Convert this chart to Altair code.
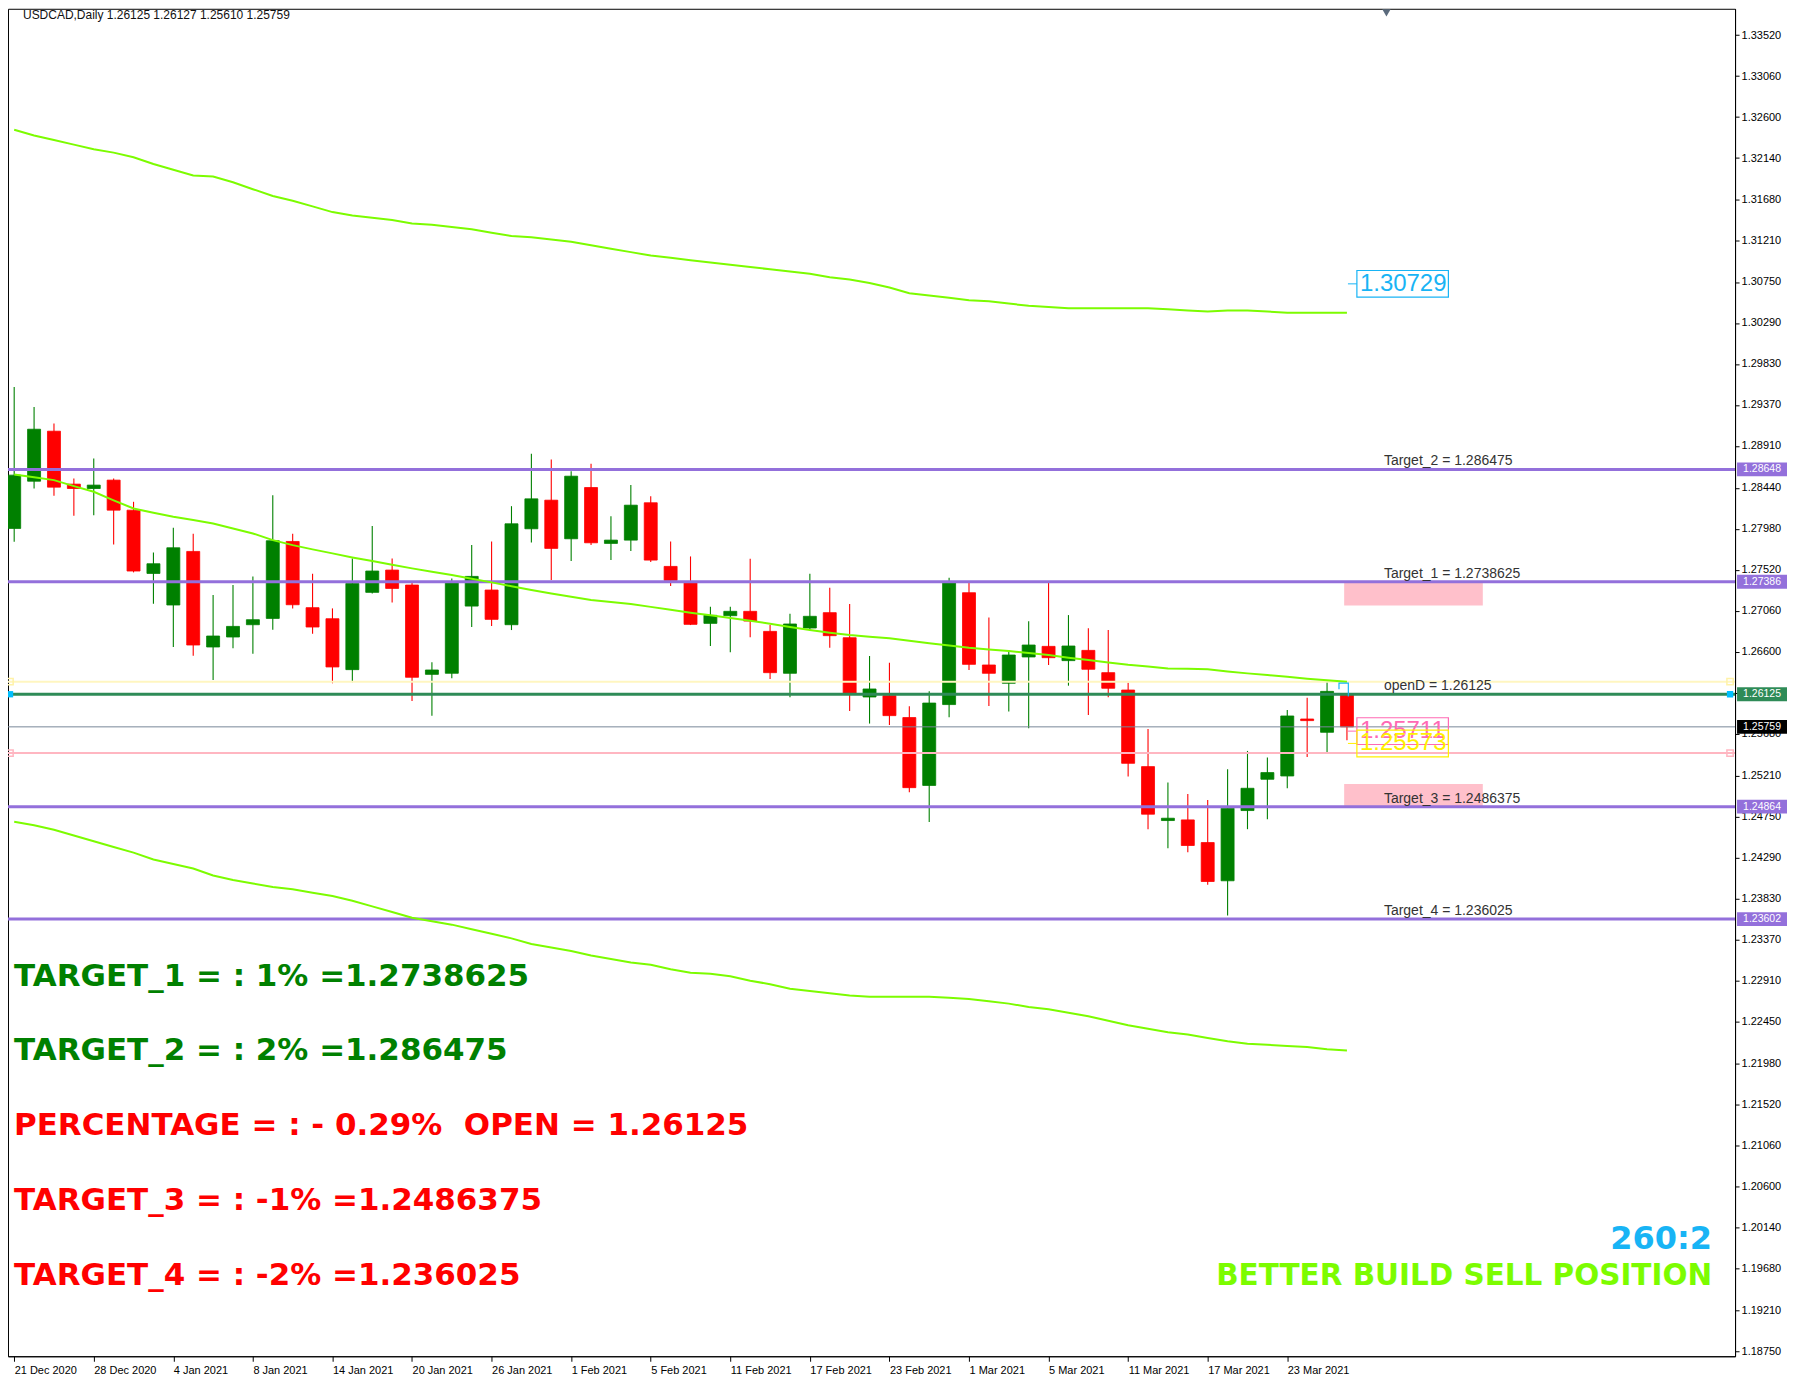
import altair as alt
import pandas as pd

# ---------------- data ----------------
x_tick_index = [0, 4, 8, 12, 16, 20, 24, 28, 32, 36, 40, 44, 48, 52, 56, 60, 64]
x_tick_labels = ["21 Dec 2020", "28 Dec 2020", "4 Jan 2021", "8 Jan 2021", "14 Jan 2021",
                 "20 Jan 2021", "26 Jan 2021", "1 Feb 2021", "5 Feb 2021", "11 Feb 2021",
                 "17 Feb 2021", "23 Feb 2021", "1 Mar 2021", "5 Mar 2021", "11 Mar 2021",
                 "17 Mar 2021", "23 Mar 2021"]
y_tick_values = [1.33520, 1.33060, 1.32600, 1.32140, 1.31680, 1.31210, 1.30750, 1.30290,
                 1.29830, 1.29370, 1.28910, 1.28440, 1.27980, 1.27520, 1.27060, 1.26600,
                 1.26140, 1.25680, 1.25210, 1.24750, 1.24290, 1.23830, 1.23370, 1.22910,
                 1.22450, 1.21980, 1.21520, 1.21060, 1.20600, 1.20140, 1.19680, 1.19210,
                 1.18750]

opens = [1.27985, 1.28515, 1.29076, 1.28482, 1.28433, 1.28527, 1.28190, 1.27480, 1.27126, 1.27727,
         1.26655, 1.26767, 1.26905, 1.26976, 1.27839, 1.27096, 1.26972, 1.26401, 1.27268, 1.27518,
         1.27350, 1.26348, 1.26360, 1.27114, 1.27294, 1.26905, 1.27981, 1.28302, 1.27869, 1.28444,
         1.27817, 1.27854, 1.28273, 1.27559, 1.27376, 1.26920, 1.27006, 1.27055, 1.26830, 1.26360,
         1.26868, 1.27040, 1.26759, 1.26094, 1.26109, 1.25863, 1.25102, 1.26009, 1.27264, 1.26453,
         1.26248, 1.26543, 1.26662, 1.26502, 1.26617, 1.26367, 1.26172, 1.25313, 1.24708, 1.24715,
         1.24461, 1.24032, 1.24820, 1.25171, 1.25208, 1.25847, 1.25698, 1.26125]
highs = [1.29573, 1.29348, 1.29162, 1.28545, 1.28769, 1.28545, 1.28284, 1.27716, 1.27992, 1.27925,
         1.27238, 1.27350, 1.27447, 1.28358, 1.27925, 1.27477, 1.27088, 1.27649, 1.28011, 1.27649,
         1.27380, 1.26483, 1.27424, 1.27798, 1.27839, 1.28235, 1.28822, 1.28758, 1.28627, 1.28710,
         1.28123, 1.28471, 1.28347, 1.27839, 1.27671, 1.27107, 1.27107, 1.27645, 1.26901, 1.27028,
         1.27477, 1.27320, 1.27137, 1.26554, 1.26479, 1.25990, 1.26158, 1.27432, 1.27383, 1.26987,
         1.26621, 1.26943, 1.27383, 1.27013, 1.26864, 1.26845, 1.26255, 1.25735, 1.25134, 1.25007,
         1.24939, 1.25283, 1.25489, 1.25414, 1.25948, 1.26086, 1.26266, 1.26127]
lows = [1.27835, 1.28433, 1.28351, 1.28127, 1.28134, 1.27806, 1.27492, 1.27141, 1.26655, 1.26558,
        1.26285, 1.26640, 1.26580, 1.26849, 1.27088, 1.26804, 1.26248, 1.26259, 1.27256, 1.27155,
        1.26050, 1.25885, 1.26304, 1.26879, 1.26890, 1.26845, 1.27828, 1.27406, 1.27619, 1.27798,
        1.27630, 1.27731, 1.27608, 1.27339, 1.26901, 1.26666, 1.26595, 1.26763, 1.26296, 1.26091,
        1.26838, 1.26647, 1.25938, 1.25796, 1.25781, 1.25025, 1.24691, 1.25866, 1.26397, 1.25994,
        1.25930, 1.25743, 1.26453, 1.26221, 1.25893, 1.26091, 1.25201, 1.24611, 1.24398, 1.24353,
        1.23987, 1.23643, 1.24611, 1.24723, 1.25070, 1.25421, 1.25462, 1.25610]
closes = [1.28583, 1.29098, 1.28448, 1.28433, 1.28471, 1.28190, 1.27507, 1.27589, 1.27768, 1.26677,
          1.26778, 1.26886, 1.26961, 1.27847, 1.27129, 1.26879, 1.26431, 1.27368, 1.27507, 1.27312,
          1.26315, 1.26397, 1.27380, 1.27447, 1.26965, 1.28037, 1.28317, 1.27761, 1.28571, 1.27824,
          1.27854, 1.28246, 1.27630, 1.27402, 1.26909, 1.27010, 1.27055, 1.26946, 1.26367, 1.26913,
          1.26999, 1.26782, 1.26136, 1.26184, 1.25885, 1.25077, 1.26026, 1.27372, 1.26460, 1.26360,
          1.26565, 1.26677, 1.26535, 1.26666, 1.26405, 1.26192, 1.25350, 1.24779, 1.24734, 1.24428,
          1.24024, 1.24846, 1.25070, 1.25246, 1.25881, 1.25829, 1.26157, 1.25759]

ma_mid = [1.28590, 1.28560, 1.28527, 1.28460, 1.28396, 1.28300, 1.28209, 1.28160, 1.28116, 1.28080,
          1.28041, 1.27985, 1.27929, 1.27854, 1.27798, 1.27750, 1.27705, 1.27660, 1.27619, 1.27578,
          1.27537, 1.27500, 1.27462, 1.27420, 1.27380, 1.27336, 1.27294, 1.27255, 1.27219, 1.27182,
          1.27160, 1.27137, 1.27105, 1.27072, 1.27040, 1.27010, 1.26980, 1.26950, 1.26915, 1.26880,
          1.26845, 1.26815, 1.26789, 1.26770, 1.26752, 1.26725, 1.26696, 1.26672, 1.26647, 1.26628,
          1.26610, 1.26588, 1.26565, 1.26535, 1.26510, 1.26480, 1.26455, 1.26435, 1.26415, 1.26410,
          1.26404, 1.26380, 1.26359, 1.26340, 1.26322, 1.26300, 1.26281, 1.26266]
env_upper = [1.32458, 1.32394, 1.32342, 1.32291, 1.32240, 1.32201, 1.32150, 1.32073, 1.32009, 1.31945,
             1.31932, 1.31868, 1.31791, 1.31714, 1.31662, 1.31598, 1.31534, 1.31496, 1.31470, 1.31444,
             1.31406, 1.31393, 1.31367, 1.31342, 1.31303, 1.31265, 1.31252, 1.31226, 1.31200, 1.31162,
             1.31123, 1.31085, 1.31046, 1.31021, 1.30995, 1.30969, 1.30944, 1.30918, 1.30892, 1.30867,
             1.30841, 1.30803, 1.30777, 1.30739, 1.30687, 1.30623, 1.30597, 1.30572, 1.30546, 1.30533,
             1.30508, 1.30482, 1.30469, 1.30456, 1.30456, 1.30456, 1.30456, 1.30456, 1.30443, 1.30430,
             1.30418, 1.30430, 1.30430, 1.30418, 1.30405, 1.30405, 1.30405, 1.30405]
env_lower = [1.24695, 1.24656, 1.24605, 1.24541, 1.24476, 1.24412, 1.24348, 1.24271, 1.24220, 1.24169,
             1.24092, 1.24040, 1.24002, 1.23963, 1.23938, 1.23899, 1.23861, 1.23809, 1.23745, 1.23681,
             1.23617, 1.23578, 1.23540, 1.23488, 1.23437, 1.23386, 1.23322, 1.23283, 1.23245, 1.23193,
             1.23155, 1.23116, 1.23091, 1.23039, 1.23001, 1.22988, 1.22962, 1.22911, 1.22872, 1.22821,
             1.22795, 1.22770, 1.22744, 1.22731, 1.22731, 1.22731, 1.22731, 1.22719, 1.22706, 1.22680,
             1.22654, 1.22616, 1.22590, 1.22552, 1.22513, 1.22462, 1.22411, 1.22372, 1.22334, 1.22308,
             1.22269, 1.22231, 1.22205, 1.22192, 1.22180, 1.22167, 1.22141, 1.22128]

target_labels = ["Target_2 = 1.286475", "Target_1 = 1.2738625", "Target_3 = 1.2486375", "Target_4 = 1.236025"]
target_values = [1.286475, 1.2738625, 1.2486375, 1.236025]
open_d_label = "openD = 1.26125"
open_d = 1.26125
last_price = 1.25759
ma_level = 1.26266
pink_level = 1.25465
zone_low = [1.27120, 1.24864]
zone_high = [1.27386, 1.25118]
tag_texts = ["1.30729", "1.25711", "1.25573"]
tag_values = [1.30729, 1.25711, 1.25573]
axis_tag_texts = ["1.28648", "1.27386", "1.26125", "1.25759", "1.24864", "1.23602"]
axis_tag_values = [1.286475, 1.2738625, 1.26125, 1.25759, 1.2486375, 1.236025]
title_text = "USDCAD,Daily  1.26125 1.26127 1.25610 1.25759"
summary_texts = ["Target_1 = : 1% =1.2738625", "Target_2 = : 2% =1.286475",
                 "Percentage = : - 0.29%\u00a0\u00a0Open = 1.26125", "Target_3 = : -1% =1.2486375",
                 "Target_4 = : -2% =1.236025"]
ratio_text = "260:2"
advice_text = "Better build Sell position"

# ---------------- styling / layout ----------------
W, H = 1729, 1349
xs = alt.Scale(domain=[-0.06, 86.26], nice=False, zero=False)
ys = alt.Scale(domain=[1.18698, 1.33815], nice=False, zero=False)
PURPLE = "#9370DB"
GREEN_UP = "#008000"
RED_DN = "#FF0000"
LIME = "#7CFC00"
CYAN = "#18B4F5"
summary_colors = ["#008000", "#008000", "#FF0000", "#FF0000", "#FF0000"]

label_expr = "''"
for v, lab in reversed(list(zip(x_tick_index, x_tick_labels))):
    label_expr = "datum.value == %d ? '%s' : (%s)" % (v, lab, label_expr)

x_axis = alt.Axis(orient="bottom", values=x_tick_index, labelExpr=label_expr, title=None,
                  labelAlign="left", labelBaseline="top", labelPadding=3, tickSize=5,
                  labelFont="Liberation Sans", labelFontSize=11, labelColor="#000000",
                  tickColor="#000000", domainColor="#000000", grid=False, labelOverlap=False,
                  labelFlush=False)
y_axis = alt.Axis(orient="right", values=y_tick_values, format=".5f", title=None,
                  labelFont="Liberation Sans", labelFontSize=11, labelColor="#000000",
                  tickColor="#000000", tickSize=4, labelPadding=2, domainColor="#000000",
                  grid=False, labelOverlap=False, labelFlush=False)


# every layer carries the same axis definition so that the shared axes merge cleanly
def X(field=None, datum=None):
    if datum is not None:
        return alt.X(datum=datum, scale=xs, axis=x_axis)
    return alt.X(field, scale=xs, axis=x_axis)


def Y(field):
    return alt.Y(field, scale=ys, axis=y_axis)


idx = list(range(len(opens)))
cdf = pd.DataFrame({"i": idx, "open": opens, "high": highs, "low": lows, "close": closes})
cdf["dir"] = ["up" if c >= o else "down" for o, c in zip(opens, closes)]
dir_scale = alt.Scale(domain=["up", "down"], range=[GREEN_UP, RED_DN])

base = alt.Chart(cdf)
wicks = base.mark_rule(strokeWidth=1.1, clip=True).encode(
    x=X("i:Q"), y=Y("low:Q"), y2="high:Q",
    color=alt.Color("dir:N", scale=dir_scale, legend=None),
)
bodies = base.mark_bar(size=13, strokeWidth=0.8, clip=True).encode(
    x=X("i:Q"), y=Y("open:Q"), y2="close:Q",
    color=alt.Color("dir:N", scale=dir_scale, legend=None),
    stroke=alt.Stroke("dir:N", scale=dir_scale, legend=None),
)

# pink zones
zdf = pd.DataFrame({"lo": zone_low, "hi": zone_high})
zones = alt.Chart(zdf).mark_rect(color="#FFC0CB", clip=True).encode(
    x=X(datum=66.86), x2=alt.X2(datum=73.83), y=Y("lo:Q"), y2="hi:Q")


# horizontal levels
def hline(value, color, width):
    return alt.Chart(pd.DataFrame({"p": [value]})).mark_rule(
        color=color, strokeWidth=width, clip=True).encode(y=Y("p:Q"))


levels = [hline(ma_level, "#FFF6C0", 2), hline(pink_level, "#FFB6C1", 2),
          hline(last_price, "#778899", 1), hline(open_d, "#2E8B57", 3)]
levels += [hline(v, PURPLE, 3) for v in target_values]

# envelope + MA lines
ldf = pd.DataFrame({
    "i": idx * 3,
    "v": env_upper + ma_mid + env_lower,
    "s": ["upper"] * len(idx) + ["mid"] * len(idx) + ["lower"] * len(idx),
})
ma_lines = alt.Chart(ldf).mark_line(color=LIME, strokeWidth=2, clip=True).encode(
    x=X("i:Q"), y=Y("v:Q"), detail="s:N")

# level texts
tl = pd.DataFrame({"t": target_labels + [open_d_label], "p": target_values + [open_d]})
level_text = alt.Chart(tl).mark_text(align="left", baseline="alphabetic", dy=-4,
                                     font="Liberation Sans", fontSize=14, color="#333333").encode(
    x=X(datum=68.86), y=Y("p:Q"), text="t:N")

# price tags with boxes
tag_colors = [CYAN, "#FF69B4", "#FFF000"]
tag_layers = []
for t, v, c in zip(tag_texts, tag_values, tag_colors):
    d = pd.DataFrame({"t": [t], "p": [v]})
    ch = alt.Chart(d).transform_calculate(lo="datum.p - 0.00150", hi="datum.p + 0.00150")
    tag_layers.append(ch.mark_rule(color=c, strokeWidth=1).encode(
        x=X(datum=67.05), x2=alt.X2(datum=67.5), y=Y("p:Q")))
    tag_layers.append(ch.mark_rect(fillOpacity=0, stroke=c, strokeWidth=1.2).encode(
        x=X(datum=67.5), x2=alt.X2(datum=72.1), y=Y("lo:Q"), y2="hi:Q"))
    tag_layers.append(ch.mark_text(align="left", baseline="middle", dx=3, font="Liberation Sans",
                                   fontSize=24, color=c).encode(
        x=X(datum=67.5), y=Y("p:Q"), text="t:N"))

# small cyan bracket near the last candle
bracket_df = pd.DataFrame({"x": [66.6, 66.6, 67.07, 67.07], "p": [1.26180, 1.26249, 1.26249, 1.26100],
                           "o": [0, 1, 2, 3]})
bracket = alt.Chart(bracket_df).mark_line(color=CYAN, strokeWidth=1.2).encode(
    x=X("x:Q"), y=Y("p:Q"), order="o:Q")


# small end markers on levels
def marker(value, color, filled, xpix):
    return alt.Chart(pd.DataFrame({"p": [value]})).mark_square(
        size=40, color=color, filled=filled, strokeWidth=1.5, opacity=1, clip=True).encode(
        x=alt.value(xpix), y=Y("p:Q"))


markers = [marker(ma_level, "#FFF2A8", False, 2), marker(open_d, "#00BFFF", True, 2),
           marker(pink_level, "#FFB6C1", False, 2),
           marker(ma_level, "#FFF2A8", False, 1724), marker(open_d, "#00BFFF", True, 1724),
           marker(pink_level, "#FFB6C1", False, 1724)]

# chart-shift marker at the top edge
shift_mark = alt.Chart(pd.DataFrame({"k": [0]})).mark_point(
    shape="triangle-down", size=70, filled=True, color="#5B6B7D", opacity=1).encode(
    x=alt.value(1380), y=alt.value(4))

# right-axis colored tags
atag_colors = [PURPLE, PURPLE, "#2E8B57", "#000000", PURPLE, PURPLE]
at_layers = []
for t, v, c in zip(axis_tag_texts, axis_tag_values, atag_colors):
    d = pd.DataFrame({"t": [t], "p": [v]})
    ch = alt.Chart(d).transform_calculate(lo="datum.p - 0.00078", hi="datum.p + 0.00078")
    at_layers.append(ch.mark_rect(color=c).encode(
        x=alt.value(W + 2), x2=alt.value(W + 52), y=Y("lo:Q"), y2="hi:Q"))
    at_layers.append(ch.mark_text(align="center", baseline="middle", font="Liberation Sans",
                                  fontSize=10.5, color="#FFFFFF").encode(
        x=alt.value(W + 27), y=Y("p:Q"), text="t:N"))

# title
title = alt.Chart(pd.DataFrame({"t": [title_text]})).mark_text(
    align="left", baseline="top", font="Liberation Sans", fontSize=12, color="#111111").encode(
    x=alt.value(15), y=alt.value(1), text="t:N")

# summary block (small-caps look -> upper case)
summary_layers = []
for k, (t, c) in enumerate(zip(summary_texts, summary_colors)):
    summary_layers.append(
        alt.Chart(pd.DataFrame({"t": [t]})).transform_calculate(u="upper(datum.t)").mark_text(
            align="left", baseline="alphabetic", font="DejaVu Sans", fontWeight="bold",
            fontSize=31, color=c).encode(
            x=alt.value(6), y=alt.value(978 + 74.8 * k), text="u:N"))

ratio = alt.Chart(pd.DataFrame({"t": [ratio_text]})).mark_text(
    align="right", baseline="alphabetic", font="DejaVu Sans", fontWeight="bold",
    fontSize=32, color=CYAN).encode(x=alt.value(1706), y=alt.value(1242), text="t:N")
advice = alt.Chart(pd.DataFrame({"t": [advice_text]})).transform_calculate(
    u="upper(datum.t)").mark_text(
    align="right", baseline="alphabetic", font="DejaVu Sans", fontWeight="bold",
    fontSize=29.5, color=LIME).encode(x=alt.value(1706), y=alt.value(1278), text="u:N")

layers = ([wicks, bodies, zones] + levels + [ma_lines, level_text] + tag_layers + [bracket]
          + markers + [shift_mark] + at_layers + [title] + summary_layers + [ratio, advice])

chart = alt.layer(*layers).properties(width=W, height=H, padding=0).configure_view(
    stroke="#000000", strokeWidth=1)

chart.save("out.html", embed_options={"renderer": "svg", "actions": False})
